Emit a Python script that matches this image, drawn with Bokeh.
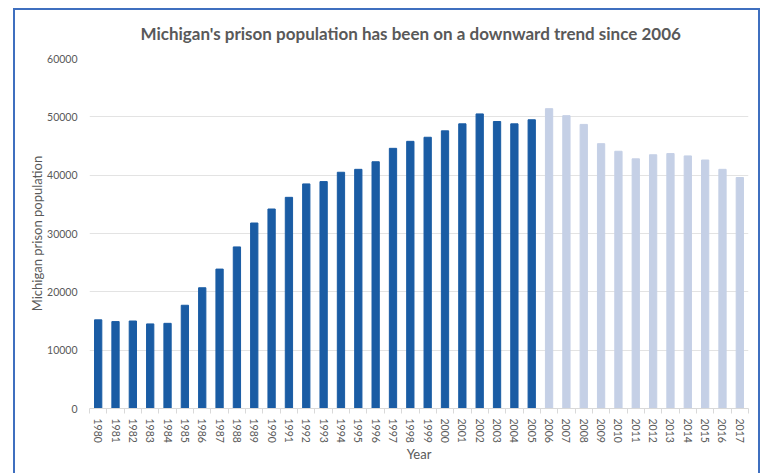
from bokeh.plotting import figure
from bokeh.models import ColumnDataSource, FixedTicker, Range1d
from bokeh.embed import file_html
from bokeh.resources import INLINE

years = list(range(1980, 2018))
population = [15200, 14900, 15000, 14500, 14600, 17700, 20700, 23900, 27700, 31800,
              34200, 36200, 38500, 38900, 40500, 41000, 42300, 44600, 45800, 46500,
              47600, 48800, 50500, 49200, 48800, 49500, 51400, 50200, 48700, 45400,
              44100, 42800, 43500, 43700, 43300, 42600, 41000, 39600]
dark_color = "#1A5CA4"
light_color = "#C5D0E6"
colors = [dark_color if y < 2006 else light_color for y in years]
y_ticks = [0, 10000, 20000, 30000, 40000, 50000, 60000]

src = ColumnDataSource(dict(x=years, top=population, color=colors))

p = figure(width=747, height=465, output_backend="svg", toolbar_location=None,
           x_range=Range1d(1979.5, 2017.5), y_range=Range1d(0, 60000),
           min_border_left=74, min_border_right=14, min_border_top=46, min_border_bottom=67,
           margin=(8, 0, 0, 13),
           title="Michigan's prison population has been on a downward trend since 2006")
p.styles = {"border-top": "2px solid #3F6FBF", "border-left": "2px solid #3F6FBF",
            "border-right": "2px solid #3F6FBF", "border-bottom": "none",
            "box-sizing": "border-box"}

p.vbar(x="x", top="top", width=0.42, color="color", source=src)

p.title.align = "left"
p.title.offset = 51
p.title.vertical_align = "top"
p.title.text_font = "Lato"
p.title.text_font_size = "17px"
p.title.text_font_style = "bold"
p.title.text_color = "#595959"
p.title.standoff = 25

p.outline_line_color = None
p.xgrid.grid_line_color = None
p.ygrid.grid_line_color = "#E3E3E3"
p.ygrid.grid_line_width = 1

p.yaxis.ticker = FixedTicker(ticks=y_ticks)
p.yaxis.axis_line_color = None
p.yaxis.major_tick_line_color = None
p.yaxis.minor_tick_line_color = None
p.yaxis.major_label_text_font = "Lato"
p.yaxis.major_label_text_font_size = "10.5px"
p.yaxis.major_label_text_color = "#595959"
p.yaxis.major_label_standoff = 6
p.yaxis.axis_label = "Michigan prison population"
p.yaxis.axis_label_text_font = "Lato"
p.yaxis.axis_label_text_font_size = "13px"
p.yaxis.axis_label_text_font_style = "normal"
p.yaxis.axis_label_text_color = "#595959"
p.yaxis.axis_label_standoff = -1

p.xaxis.ticker = FixedTicker(ticks=years, minor_ticks=[y - 0.5 for y in years] + [years[-1] + 0.5])
p.xaxis.axis_line_color = "#D9D9D9"
p.xaxis.major_tick_line_color = None
p.xaxis.major_tick_out = 0
p.xaxis.minor_tick_line_color = "#D9D9D9"
p.xaxis.minor_tick_out = 5
p.xaxis.minor_tick_in = 0
p.xaxis.major_label_orientation = "vertical"
p.xaxis.major_label_text_font = "Lato"
p.xaxis.major_label_text_font_size = "10.5px"
p.xaxis.major_label_text_color = "#595959"
p.xaxis.major_label_standoff = 5
p.xaxis.axis_label = "Year"
p.xaxis.axis_label_text_font = "Lato"
p.xaxis.axis_label_text_font_size = "13px"
p.xaxis.axis_label_text_font_style = "normal"
p.xaxis.axis_label_text_color = "#595959"
p.xaxis.axis_label_standoff = 0

open("out.html", "w").write(file_html(p, INLINE))
